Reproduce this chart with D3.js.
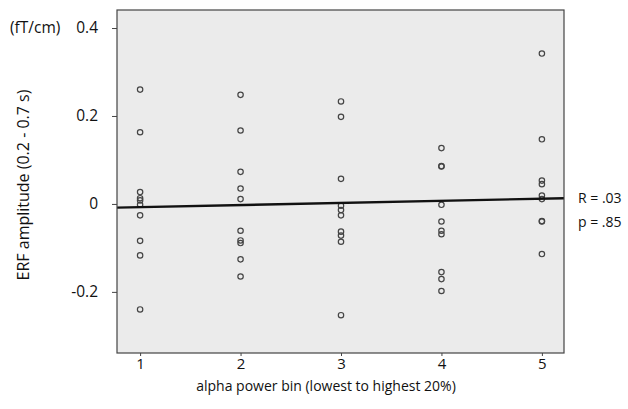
<!DOCTYPE html>
<html>
<head>
<meta charset="utf-8">
<script src="https://cdn.jsdelivr.net/npm/d3@7"></script>
<style>
  body { margin: 0; background: #fff; }
  svg text { font-family: "Open Sans", sans-serif; fill: #111; }
</style>
</head>
<body>
<svg id="chart" width="628" height="409"></svg>
<script>
// values, one array per alpha bin
var bins = [1, 2, 3, 4, 5];
var bin1 = [0.26, 0.163, 0.027, 0.013, 0.008, -0.002, -0.026, -0.084, -0.117, -0.24];
var bin2 = [0.248, 0.167, 0.073, 0.035, 0.011, -0.061, -0.083, -0.089, -0.126, -0.165];
var bin3 = [0.233, 0.198, 0.057, -0.004, -0.014, -0.026, -0.063, -0.072, -0.086, -0.253];
var bin4 = [0.127, 0.086, 0.085, -0.002, -0.040, -0.061, -0.069, -0.155, -0.171, -0.198];
var bin5 = [0.342, 0.147, 0.053, 0.045, 0.019, 0.011, -0.039, -0.040, -0.114];
var yTicks = [0.4, 0.2, 0, -0.2];
var yTickLabels = ["0.4", "0.2", "0", "-0.2"];
var fitLine = { intercept: -0.0121, slope: 0.0048 };
var stats = ["R = .03", "p = .85"];

var margin = { top: 10, right: 64, bottom: 56, left: 117 };
var width = 628, height = 409;

var svg = d3.select("#chart");

var x = d3.scaleLinear().domain([0.77, 5.22]).range([margin.left, width - margin.right]);
var y = d3.scaleLinear().domain([-0.339, 0.441]).range([height - margin.bottom, margin.top]);

// plot background
svg.append("rect")
	.attr("x", x(0.77))
	.attr("y", y(0.441))
	.attr("width", x(5.22) - x(0.77))
	.attr("height", y(-0.339) - y(0.441))
	.style("fill", "#ebebeb");

var points = [];
[bin1, bin2, bin3, bin4, bin5].forEach(function(vals, i) {
	vals.forEach(function(v) { points.push({ bin: bins[i], v: v }); });
});

svg.selectAll("circle.pt")
	.data(points)
	.enter().append("circle")
	.classed("pt", true)
	.attr("cx", function(d) { return x(d.bin); })
	.attr("cy", function(d) { return y(d.v); })
	.attr("r", 2.7)
	.style("fill", "none")
	.style("stroke", "#444")
	.style("stroke-width", 1.2);

// regression line across the whole frame
svg.append("line")
	.attr("x1", x(0.77))
	.attr("y1", y(fitLine.intercept + fitLine.slope * 0.77))
	.attr("x2", x(5.22))
	.attr("y2", y(fitLine.intercept + fitLine.slope * 5.22))
	.style("stroke", "#111")
	.style("stroke-width", 2.4);

// frame
svg.append("rect")
	.attr("x", x(0.77))
	.attr("y", y(0.441))
	.attr("width", x(5.22) - x(0.77))
	.attr("height", y(-0.339) - y(0.441))
	.style("fill", "none")
	.style("stroke", "#444")
	.style("stroke-width", 1.2);

var yAxis = d3.axisLeft(y)
	.tickValues(yTicks)
	.tickFormat(function(d, i) { return yTickLabels[i]; })
	.tickSize(5)
	.tickPadding(14);

svg.append("g")
	.attr("transform", "translate(" + x(0.77) + ",0)")
	.call(yAxis)
	.call(function(g) {
		g.select(".domain").remove();
		g.selectAll("line").style("stroke", "#444");
		g.selectAll("text").style("font-size", "15.5px").style("font-family", null).style("fill", "#111");
	});

var xAxis = d3.axisBottom(x)
	.tickValues(bins)
	.tickFormat(d3.format("d"))
	.tickSize(3)
	.tickPadding(2);

svg.append("g")
	.attr("transform", "translate(0," + y(-0.339) + ")")
	.call(xAxis)
	.call(function(g) {
		g.select(".domain").remove();
		g.selectAll("line").style("stroke", "#444");
		g.selectAll("text").style("font-size", "15px").style("font-family", null).style("fill", "#111");
	});

svg.append("text")
	.attr("x", 326)
	.attr("y", 391)
	.attr("text-anchor", "middle")
	.style("font-size", "14px")
	.text("alpha power bin (lowest to highest 20%)");

svg.append("text")
	.attr("transform", "translate(29,185) rotate(-90)")
	.attr("text-anchor", "middle")
	.style("font-size", "16px")
	.text("ERF amplitude (0.2 - 0.7 s)");

svg.append("text")
	.attr("x", 10)
	.attr("y", 33)
	.style("font-size", "15.5px")
	.text("(fT/cm)");

svg.selectAll("text.stat")
	.data(stats)
	.enter().append("text")
	.classed("stat", true)
	.attr("x", 578)
	.attr("y", function(d, i) { return 203 + i * 24; })
	.style("font-size", "14px")
	.text(function(d) { return d; });
</script>
</body>
</html>
